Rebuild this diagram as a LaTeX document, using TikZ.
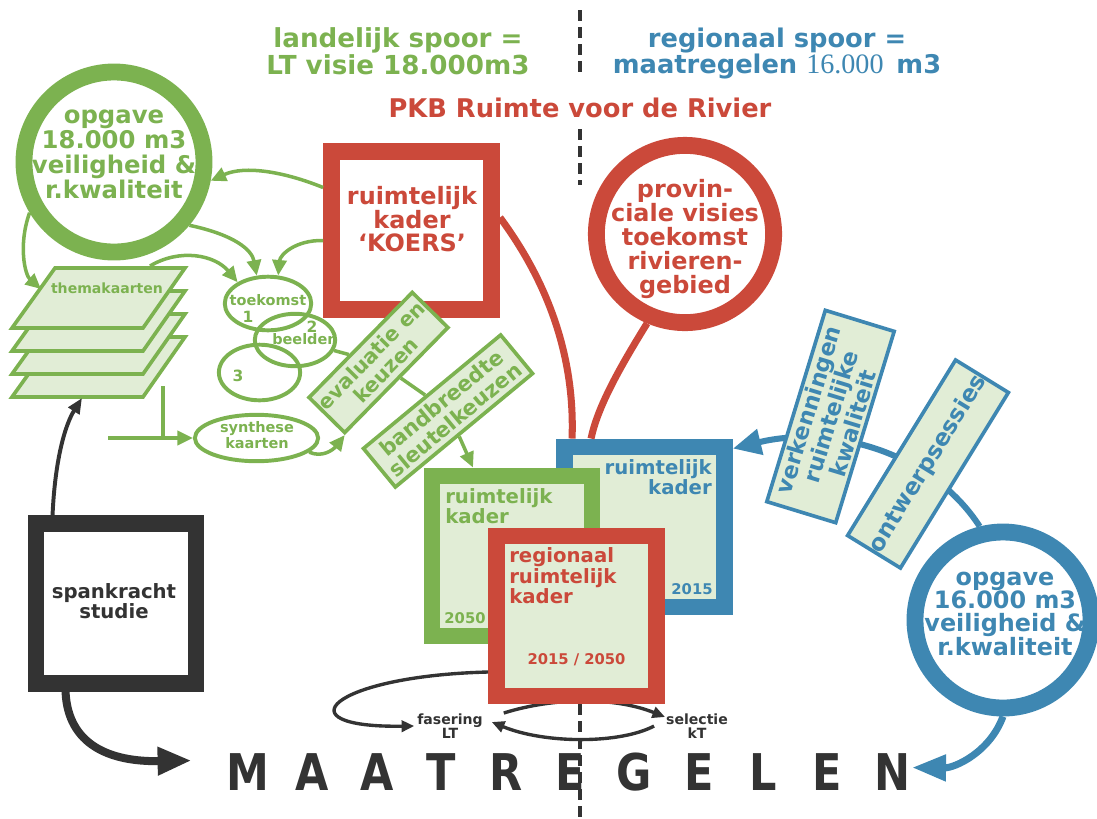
\documentclass[tikz,border=0pt]{standalone}
\usepackage{fontspec}
\setmainfont{DejaVu Sans}
\newfontfamily\timesnum{Liberation Serif}
\usetikzlibrary{arrows.meta,shapes.geometric,calc}
\definecolor{kgreen}{RGB}{124,178,80}
\definecolor{kfill}{RGB}{225,237,214}
\definecolor{kred}{RGB}{203,73,58}
\definecolor{kblue}{RGB}{62,135,178}
\definecolor{kdark}{RGB}{51,51,51}
\newcommand{\fs}[2]{\fontsize{#1}{#2}\selectfont\bfseries}

\begin{document}
\begin{tikzpicture}[x=0.025cm,y=-0.025cm]
    \tikzset{ring/.style={draw=#1, circle, line width=12pt, fill=white, inner sep=0pt},
        frame/.style={draw=#1, line width=12pt, inner sep=0pt, minimum size=4cm},
        tilted/.style 2 args={draw=#1, fill=kfill, text=#1, line width=2.6pt, rotate=#2, align=center, inner sep=0pt},
        oval/.style={draw=kgreen, ellipse, line width=2.8pt, inner sep=0pt},
        sheet/.style={draw=kgreen, fill=kfill, line width=2.6pt},
        txt/.style={inner sep=0pt, align=center},
        gline/.style={kgreen, line width=2.5pt},
        garrow/.style={gline, -{Triangle[length=11pt,width=10pt]}},
        darrow/.style={kdark, line width=2.4pt, -{Triangle[length=9pt,width=8pt]}},
        divider/.style={kdark, line width=3pt, dash pattern=on 7.8pt off 4.3pt}};
    \useasboundingbox (0,0) rectangle (1097,818);

    \draw[divider] (580,10) -- (580,75);
    \draw[divider] (580,129) -- (580,185);
    \draw[divider] (580,704) -- (580,818);

    \node[txt, text=kgreen, font=\fs{18.6}{19.2}] (landelijk) at (398,51.5) {landelijk spoor =\\LT visie 18.000m3};
    \node[txt, text=kblue, font=\fs{18.3}{18.5}] (regionaal) at (777,53.5) {regionaal spoor =\\maatregelen {\timesnum\mdseries\fontsize{20}{19}\selectfont 16.000}\enspace m3};
    \node[txt, text=kred, font=\fs{18.3}{18}] (pkb) at (580,108) {PKB Ruimte voor de Rivier};

    % circles
    \node[ring=kgreen, minimum size=4.5cm] (opgL) at (114,162) {};
    \node[txt, text=kgreen, font=\fs{17.3}{17.8}] (opgLtxt) at (114,154) {opgave\\18.000 m3\\veiligheid \&\\r.kwaliteit};
    \node[ring=kred, minimum size=4.43cm] (prov) at (685,234) {};
    \node[txt, text=kred, font=\fs{17}{17}] (provtxt) at (685,239) {provin-\\ciale visies\\toekomst\\rivieren-\\gebied};
    \node[ring=kblue, minimum size=4.4cm] (opgR) at (1003,620) {};
    \node[txt, text=kblue, font=\fs{17}{16.4}] (opgRtxt) at (1005,614) {opgave\\16.000 m3\\veiligheid \&\\r.kwaliteit};

    % kaders
    \node[frame=kred, fill=white, minimum height=3.95cm] (koers) at (411.5,230.5) {};
    \node[txt, text=kred, font=\fs{17}{16.4}] (koerstxt) at (412,219) {ruimtelijk\\kader\\‘KOERS’};
    \node[frame=kdark, fill=white] (spank) at (116,603.5) {};
    \node[txt, text=kdark, font=\fs{14}{14}] (spanktxt) at (114,601) {spankracht\\studie};
    \node[frame=kblue, fill=kfill] (blueK) at (644.5,527) {};
    \node[txt, text=kblue, font=\fs{14}{14.2}, anchor=east, align=right] (blueKtxt) at (712,477) {ruimtelijk\\kader};
    \node[txt, text=kblue, font=\fs{10.5}{10.5}] (blueKjaar) at (692,589) {2015};
    \node[frame=kgreen, fill=kfill] (greenK) at (512,556) {};
    \node[txt, text=kgreen, font=\fs{14}{14.2}, anchor=west, align=left] (greenKtxt) at (445,506) {ruimtelijk\\kader};
    \node[txt, text=kgreen, font=\fs{10.5}{10.5}] (greenKjaar) at (465,618) {2050};

    \node[txt, inner sep=2pt, text=kdark, font=\fs{10}{10}] (fas) at (450,726) {fasering\\LT};
    \node[txt, inner sep=2pt, text=kdark, font=\fs{10}{10}] (sel) at (697,726) {selectie\\kT};
    \draw[darrow] ($(fas.east)+(18,-13)$) .. controls (555,697) and (615,697) .. ($(sel.west)+(2,-9)$);

    \node[frame=kred, fill=kfill] (redK) at (576.5,616) {};
    \node[txt, text=kred, font=\fs{14}{14.6}, anchor=west, align=left] (redKtxt) at (509,576) {regionaal\\ruimtelijk\\kader};
    \node[txt, text=kred, font=\fs{10.5}{10.5}] (redKjaar) at (576.5,660) {2015 / 2050};

    \draw[darrow] ($(sel.west)+(-9,0)$) .. controls (620,744) and (545,744) .. ($(fas.east)+(6,-4)$);
    \draw[darrow] ($(redK.west)+(0,56)$) .. controls (330,676) and (280,728) .. (fas.west);

    % MAATREGELEN
    \foreach \c [count=\i from 0] in {M,A,A,T,R,E,G,E,L,E,N}
        \node[inner sep=0pt, anchor=base, text=kdark, font=\fs{36}{36}, xscale=0.85] (m\i) at (248+64.4*\i,790) {\c};

    % themakaarten
    \foreach \d in {3,2,1,0}
        \draw[sheet] (55,268+23*\d) -- (185,268+23*\d) -- (143,328+23*\d) -- (12,328+23*\d) -- cycle;
    \node[txt, text=kgreen, font=\fs{10}{10}] (thema) at (107,288) {themakaarten};
    \coordinate (themaTop) at (150,266);
    \coordinate (themaLeft) at (41,289);
    \coordinate (themaBot) at (82,398);
    \coordinate (themaStem) at (163,386);
    \coordinate (themaFeed) at (108,438);

    % toekomstbeelden
    \node[oval, minimum width=2.16cm, minimum height=1.34cm] (tk1) at (268,303.5) {};
    \node[oval, minimum width=2.01cm, minimum height=1.31cm] (tk2) at (295,340) {};
    \node[oval, minimum width=2.03cm, minimum height=1.39cm] (tk3) at (259.5,372.5) {};
    \node[oval, minimum width=3.08cm, minimum height=1.16cm] (synth) at (256.5,438) {};
    \node[txt, text=kgreen, font=\fs{10.3}{10}] (tk1txt) at (268,300) {toekomst};
    \node[txt, text=kgreen, font=\fs{11}{11}] (tk1nr) at (248,317) {1};
    \node[txt, text=kgreen, font=\fs{11}{11}] (tk2nr) at (312,327) {2};
    \node[txt, text=kgreen, font=\fs{10.3}{10}] (tk2txt) at (305,339) {beelden};
    \node[txt, text=kgreen, font=\fs{11}{11}] (tk3nr) at (238,376) {3};
    \node[txt, text=kgreen, font=\fs{10.3}{9.4}] (synthtxt) at (257,435) {synthese\\kaarten};

    \node[tilted={kgreen}{45.5}, minimum width=3.68cm, minimum height=1.25cm, font=\fs{14.5}{15}] (eval) at (378.5,362.5) {evaluatie en\\keuzen};
    \node[tilted={kgreen}{39.6}, minimum width=4.45cm, minimum height=1.25cm, font=\fs{15}{15.5}] (band) at (448,411) {bandbreedte\\sleutelkeuzen};

    % groene pijlen
    \draw[garrow] (opgL.211) .. controls (18,245) and (25,275) .. (themaLeft);
    \draw[garrow] ($(koers.west)+(0,-43)$) .. controls (285,172) and (245,165) .. (opgL.-11);
    \draw[garrow] (opgL.-40) .. controls (235,235) and (252,250) .. (tk1.112);
    \draw[garrow] ($(koers.west)+(0,10)$) .. controls (295,240) and (280,255) .. (tk1.70);
    \draw[garrow] (themaTop) .. controls (180,248) and (215,255) .. (tk1.145);
    \draw[gline] (themaStem) -- (themaStem |- synth.west);
    \draw[garrow] (themaFeed) -- (synth.west);
    \draw[garrow] (synth.-15) .. controls (322,458) and (333,450) .. (eval.south west);
    \draw[gline] (tk2) -- (eval);
    \draw[gline] (eval) -- (band);
    \draw[garrow] (band) -- (greenK);

    % rode lijnen
    \draw[kred, line width=5pt] ($(koers.east)+(0,-13)$) .. controls (550,285) and (575,360) .. ($(blueK.north west)+(16,0)$);
    \draw[kred, line width=5pt] (prov.-113) .. controls (615,375) and (597,410) .. ($(blueK.north west)+(35,0)$);

    % blauw
    \draw[kblue, line width=4.3pt, -{Triangle[length=20pt,width=18pt]}] (opgR.104) .. controls (930,450) and (830,425) .. ($(blueK.north east)+(0,10)$);
    \node[tilted={kblue}{73}, minimum width=5cm, minimum height=1.8cm, font=\fs{16}{15.5}] (verk) at (830.5,416.5) {verkenningen\\ruimtelijke\\kwaliteit};
    \node[tilted={kblue}{58.4}, minimum width=5.15cm, minimum height=1.55cm, font=\fs{16.5}{16.5}] (ontw) at (928,464) {ontwerpsessies};
    \draw[kblue, line width=5pt, -{Triangle[length=24pt,width=18pt]}] (opgR.south) .. controls (990,752) and (955,768) .. ($(m10.east)+(2,-4)$);

    % zwart
    \draw[kdark, line width=2.8pt, -{Triangle[length=11pt,width=9pt]}] ($(spank.north west)+(25,0)$) .. controls (55,460) and (65,425) .. (themaBot);
    \draw[kdark, line width=5.7pt, -{Triangle[length=24pt,width=19pt]}] ($(spank.south west)+(38,0)$) .. controls (68,745) and (110,762) .. ($(m0.west)+(-35,-11)$);
\end{tikzpicture}
\end{document}
